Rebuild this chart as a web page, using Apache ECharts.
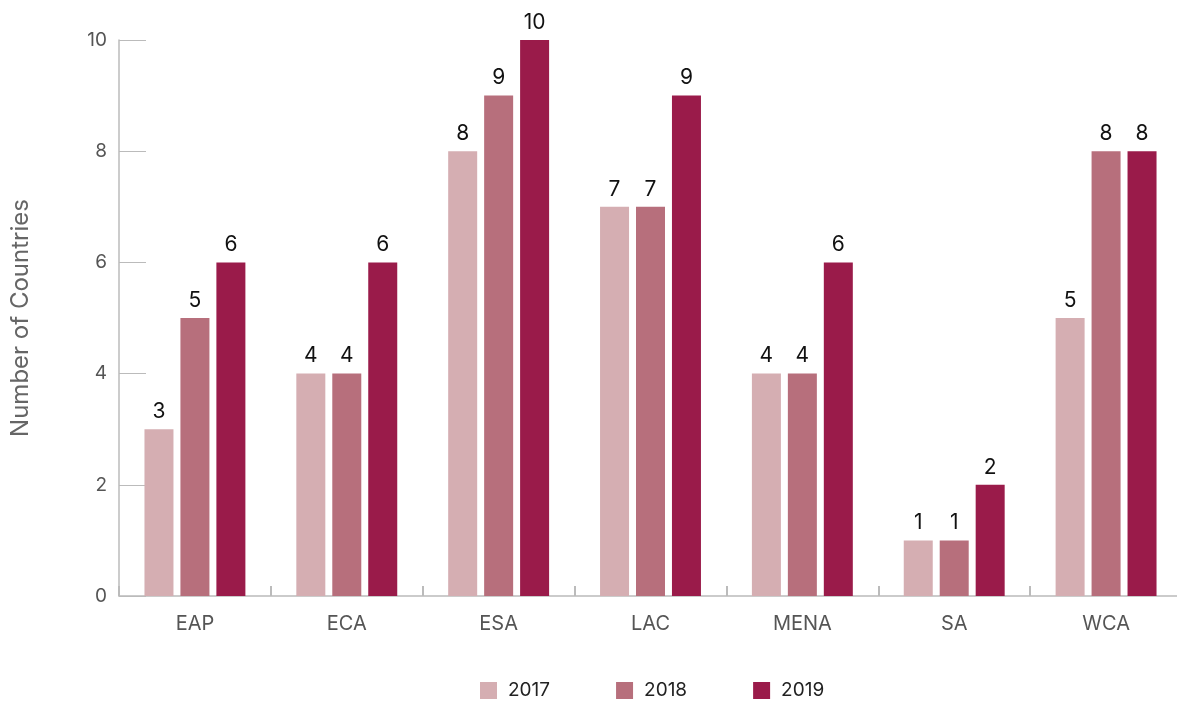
<!DOCTYPE html>
<html><head><meta charset="utf-8">
<script src="https://cdn.jsdelivr.net/npm/echarts@6/dist/echarts.min.js"></script>
<style>html,body{margin:0;padding:0;background:#fff;overflow:hidden}#c{width:1192px;height:702px}</style>
</head><body><div id="c"></div>
<script>
const categories = ['EAP','ECA','ESA','LAC','MENA','SA','WCA'];
const years = ['2017','2018','2019'];
const v2017 = [3,4,8,7,4,1,5];
const v2018 = [5,4,9,7,4,1,8];
const v2019 = [6,6,10,9,6,2,8];
const yTicks = [0,2,4,6,8,10];
const colors = ['#d5aeb2','#b76f7c','#9a1b4a'];
const FONT = 'Inter, "Noto Sans", sans-serif';
const chart = echarts.init(document.getElementById('c'));
const mk = (name, data, color) => ({
  name, type:'bar', data, barWidth:29, barGap:'24%',
  itemStyle:{color},
  label:{show:true, position:'top', distance:7, color:'#111', fontSize:21, fontFamily:FONT}
});
chart.setOption({
  animation:false,
  textStyle:{fontFamily:FONT},
  grid:{left:119, width:1063, top:40, bottom:106, containLabel:false},
  legend:{
    data:years, left:480, top:681, padding:0, itemWidth:17, itemHeight:17, itemGap:66,
    icon:'rect', textStyle:{fontSize:19, color:'#222', fontFamily:FONT, padding:[0,0,0,6]}
  },
  xAxis:{
    type:'category', data:categories,
    axisLine:{lineStyle:{color:'#bbb', width:1.5}},
    axisTick:{show:true, inside:true, length:10, lineStyle:{color:'#bbb', width:2}},
    axisLabel:{color:'#555', fontSize:20, margin:18, fontFamily:FONT}
  },
  yAxis:{
    type:'value', min:0, max:10, interval:2,
    name:'Number of Countries', nameLocation:'middle', nameGap:86, nameRotate:90,
    nameTextStyle:{color:'#666', fontSize:24, fontFamily:FONT},
    axisLine:{show:true, lineStyle:{color:'#bbb', width:1.5}},
    axisTick:{show:true, inside:true, length:27, lineStyle:{color:'#bbb'}},
    splitLine:{show:false},
    axisLabel:{color:'#555', fontSize:19, margin:12, padding:[8,0,0,0], fontFamily:FONT,
      formatter:(v)=> yTicks.includes(v) ? String(v) : ''}
  },
  series:[mk(years[0], v2017, colors[0]), mk(years[1], v2018, colors[1]), mk(years[2], v2019, colors[2])]
});
</script></body></html>
